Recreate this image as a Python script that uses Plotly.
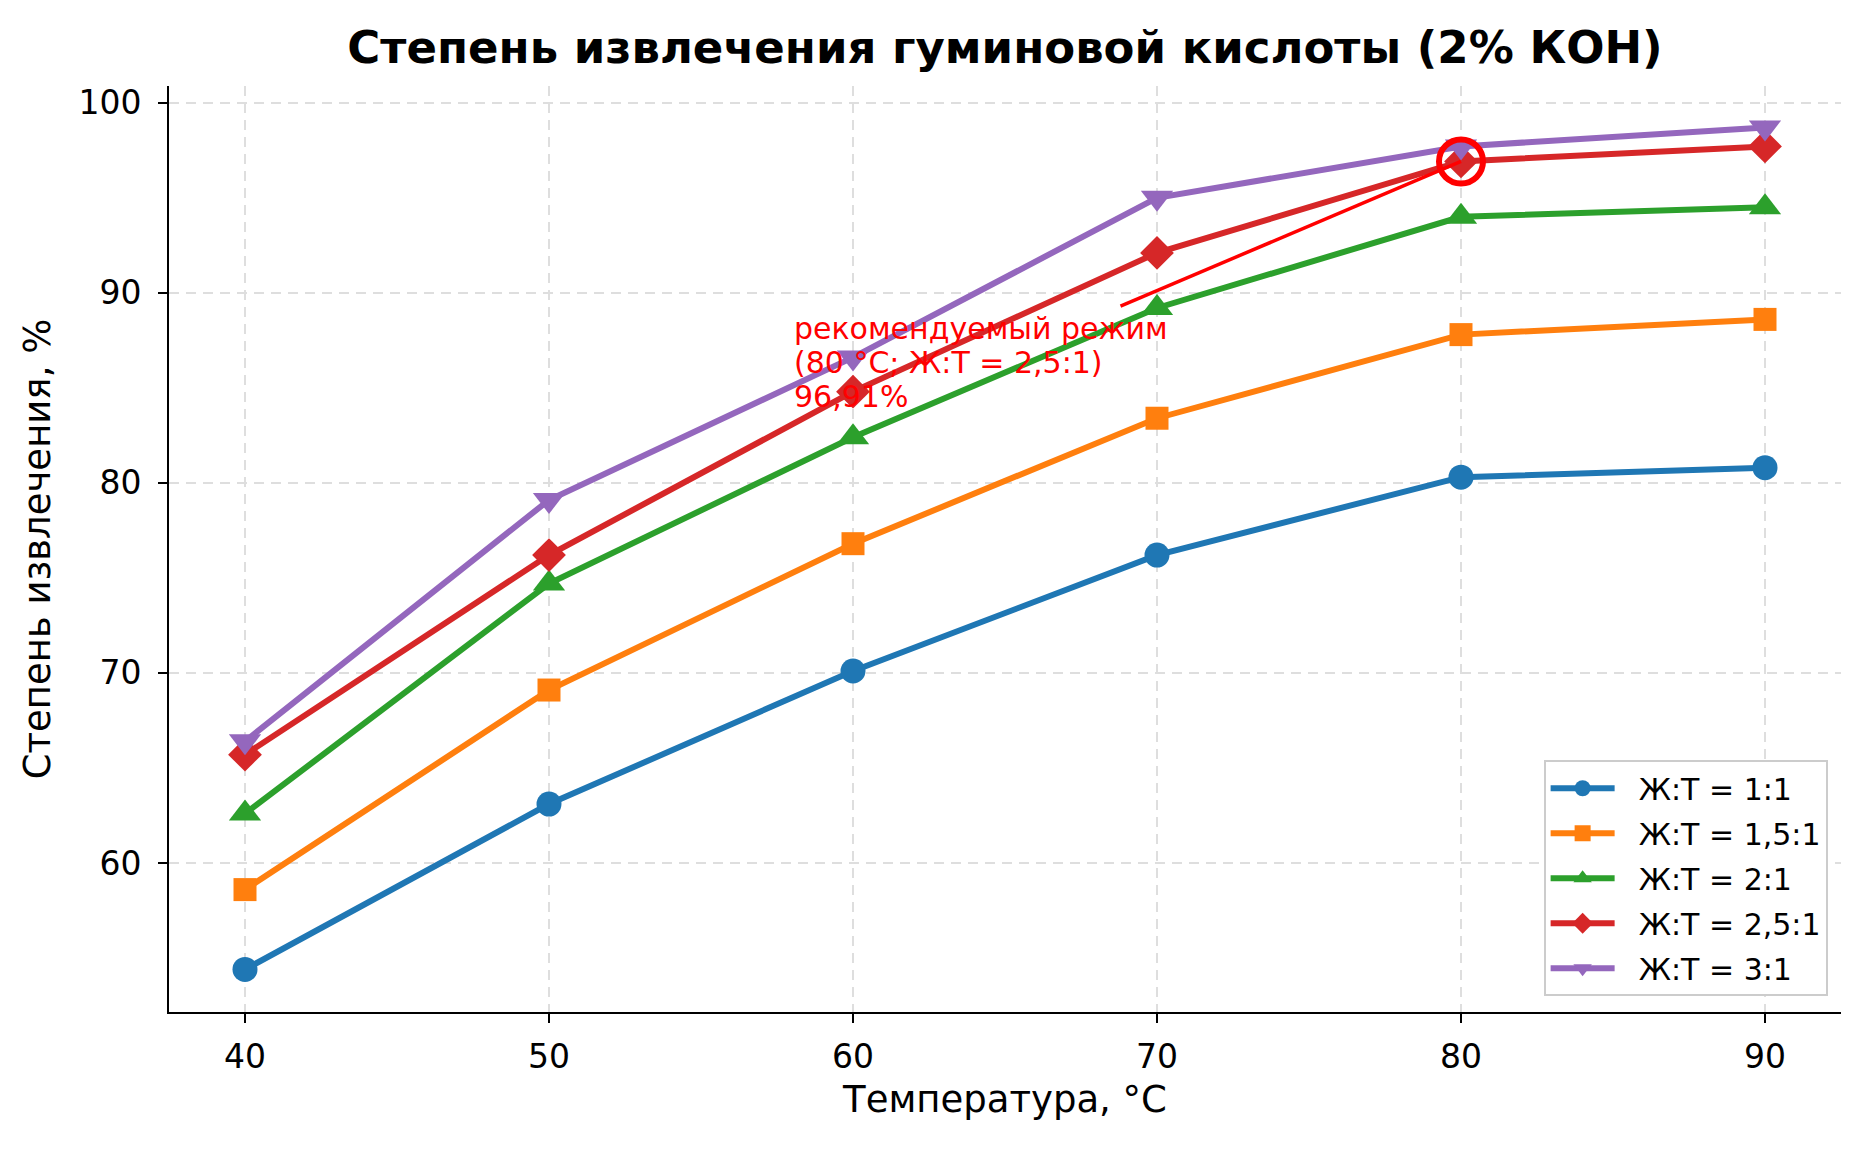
import plotly.graph_objects as go

# температура, °C
temps = [40, 50, 60, 70, 80, 90]

# степень извлечения, % для разных соотношений Ж:Т
names = ["Ж:Т = 1:1", "Ж:Т = 1,5:1", "Ж:Т = 2:1", "Ж:Т = 2,5:1", "Ж:Т = 3:1"]
r_1_1 = [54.4, 63.1, 70.1, 76.2, 80.3, 80.8]
r_15_1 = [58.6, 69.1, 76.8, 83.4, 87.8, 88.6]
r_2_1 = [62.6, 74.7, 82.4, 89.2, 94.0, 94.5]
r_25_1 = [65.7, 76.2, 84.8, 92.1, 96.91, 97.7]
r_3_1 = [66.4, 79.1, 86.6, 95.0, 97.7, 98.7]
series = [r_1_1, r_15_1, r_2_1, r_25_1, r_3_1]

colors = ["#1f77b4", "#ff7f0e", "#2ca02c", "#d62728", "#9467bd"]
symbols = ["circle", "square", "triangle-up", "diamond", "triangle-down"]
sizes = [25, 23, 28, 26, 28]

# рекомендуемый режим
best_t = 80
best_val = 96.91
note_x, note_y = 58, 84
note_lines = ["рекомендуемый режим", "(80 °C; Ж:Т = 2,5:1)", "96,91%"]
line_from = (68.8, 89.3)

font = "DejaVu Sans"

fig = go.Figure()
for i, (name, vals, c, s, ms) in enumerate(zip(names, series, colors, symbols, sizes)):
    fig.add_trace(go.Scatter(
        x=temps, y=vals, name="\u00a0\u00a0" + name, mode="lines+markers", legendgroup=str(i),
        line=dict(color=c, width=6),
        marker=dict(symbol=s, size=ms, color=c),
    ))

fig.add_trace(go.Scatter(
    x=[best_t], y=[best_val], mode="markers", showlegend=False,
    marker=dict(symbol="circle-open", size=44, color="red", line=dict(color="red", width=6)),
))

fig.add_shape(type="line", xref="x", yref="y",
              x0=line_from[0], y0=line_from[1], x1=best_t, y1=best_val,
              line=dict(color="red", width=3.5))

# по строке, чтобы межстрочный интервал был как в оригинале
for k, txt in enumerate(note_lines):
    fig.add_annotation(
        x=note_x, y=note_y, xref="x", yref="y", showarrow=False,
        xanchor="left", yanchor="middle", yshift=10 + 34 * (len(note_lines) - 1 - k),
        text=txt, font=dict(family=font, size=30, color="red"),
    )

axis_common = dict(
    showline=True, linecolor="black", linewidth=2, mirror=False,
    showgrid=True, gridcolor="#dedede", gridwidth=2, griddash="10px,7px",
    ticks="outside", ticklen=9, tickwidth=2, tickcolor="black",
    tickfont=dict(family=font, size=33, color="black"),
    zeroline=False, automargin=False,
)

fig.update_xaxes(axis_common, range=[37.5, 92.5], dtick=10, ticklabelstandoff=5,
                 title=dict(text="Температура, °C", font=dict(family=font, size=37, color="black"), standoff=12))
fig.update_yaxes(axis_common, range=[52.16, 100.88], dtick=10, ticklabelstandoff=10,
                 title=dict(text="Степень извлечения, %", font=dict(family=font, size=37, color="black"), standoff=16))

# страница сдвинута на 8px отступом body, поэтому размеры чуть меньше окна
fig.update_layout(
    width=1850, height=1134,
    margin=dict(l=161, r=17, t=78, b=130),
    plot_bgcolor="white", paper_bgcolor="white",
    title=dict(text="<b>Степень извлечения гуминовой кислоты (2% КОН)</b>",
               x=0.5, xref="paper", y=0.965, yref="container", yanchor="middle",
               font=dict(family=font, size=45, color="black")),
    legend=dict(x=0.992, y=0.017, xanchor="right", yanchor="bottom",
                bgcolor="white", bordercolor="#cccccc", borderwidth=2,
                itemwidth=64, tracegroupgap=3,
                font=dict(family=font, size=30, color="black")),
)

fig.write_html("out.html")
